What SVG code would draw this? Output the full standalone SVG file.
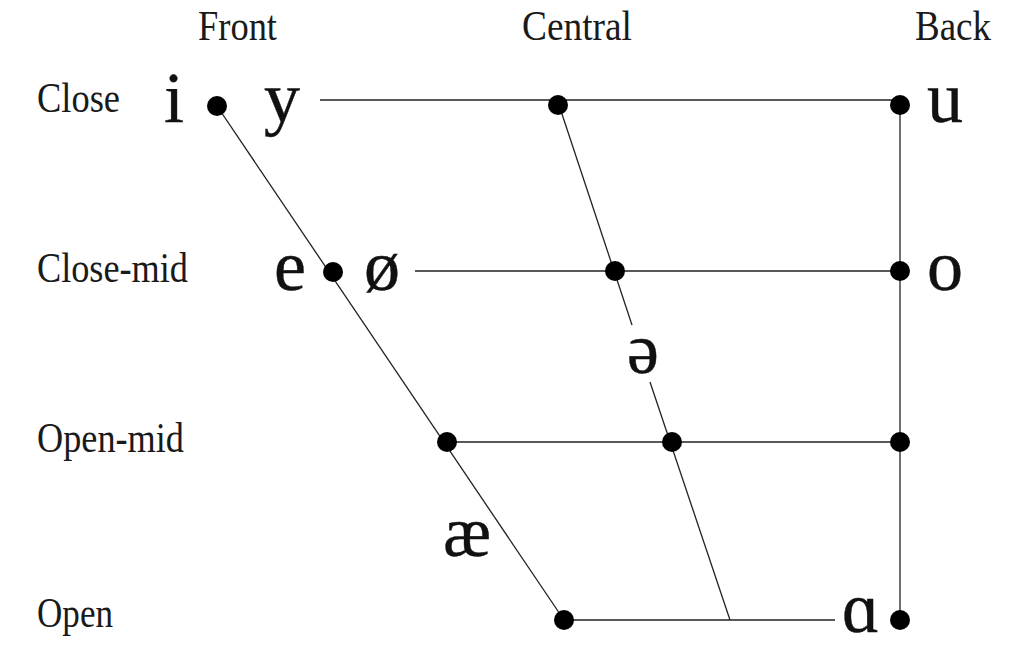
<svg xmlns="http://www.w3.org/2000/svg" width="1024" height="651" viewBox="0 0 1024 651">
<style>
.lbl{font-family:"Liberation Serif","Times New Roman",serif;font-size:42px;fill:#1a1a1a}
.v{font-family:"Liberation Serif","DejaVu Serif",serif;font-size:72px;fill:#111;stroke:#111;stroke-width:0.4}
.ln{stroke:#222;stroke-width:1.3;fill:none}
.dot{fill:#000}
</style>
<rect width="1024" height="651" fill="#fff"/>
<g id="headers">
<text class="lbl" x="198" y="40" textLength="79" lengthAdjust="spacingAndGlyphs">Front</text>
<text class="lbl" x="522" y="40" textLength="110" lengthAdjust="spacingAndGlyphs">Central</text>
<text class="lbl" x="915" y="40" textLength="76" lengthAdjust="spacingAndGlyphs">Back</text>
<text class="lbl" x="37" y="112" textLength="83" lengthAdjust="spacingAndGlyphs">Close</text>
<text class="lbl" x="37" y="282" textLength="151" lengthAdjust="spacingAndGlyphs">Close-mid</text>
<text class="lbl" x="37" y="452" textLength="147" lengthAdjust="spacingAndGlyphs">Open-mid</text>
<text class="lbl" x="37" y="627" textLength="76" lengthAdjust="spacingAndGlyphs">Open</text>
</g>
<g id="connectors">
<line class="ln" x1="320" y1="100" x2="900" y2="100"/>
<line class="ln" x1="415" y1="271" x2="900" y2="271"/>
<line class="ln" x1="447" y1="442" x2="900" y2="442"/>
<line class="ln" x1="564" y1="620" x2="835" y2="620"/>
<line class="ln" x1="900" y1="100" x2="900" y2="620"/>
<line class="ln" x1="217" y1="106" x2="564" y2="620"/>
<line class="ln" x1="558" y1="102" x2="632" y2="325"/>
<line class="ln" x1="650" y1="382" x2="730" y2="620"/>
</g>
<g id="dots">
<circle class="dot" cx="217" cy="106" r="10"/>
<circle class="dot" cx="558" cy="105" r="10"/>
<circle class="dot" cx="900" cy="105" r="10"/>
<circle class="dot" cx="333" cy="272" r="10"/>
<circle class="dot" cx="615" cy="271" r="10"/>
<circle class="dot" cx="900" cy="271" r="10"/>
<circle class="dot" cx="447" cy="442" r="10"/>
<circle class="dot" cx="672" cy="442" r="10"/>
<circle class="dot" cx="900" cy="442" r="10"/>
<circle class="dot" cx="564" cy="620" r="10"/>
<circle class="dot" cx="900" cy="620" r="10"/>
</g>
<g id="vowels">
<text class="v" x="164" y="122">i</text>
<text class="v" x="264" y="122">y</text>
<text class="v" x="927" y="122">u</text>
<text class="v" x="274" y="290">e</text>
<text class="v" x="364" y="290">ø</text>
<text class="v" x="927" y="290">o</text>
<text class="v" x="627" y="373">ə</text>
<text class="v" x="443" y="556">æ</text>
<text class="v" x="842" y="632">ɑ</text>
</g>
</svg>
